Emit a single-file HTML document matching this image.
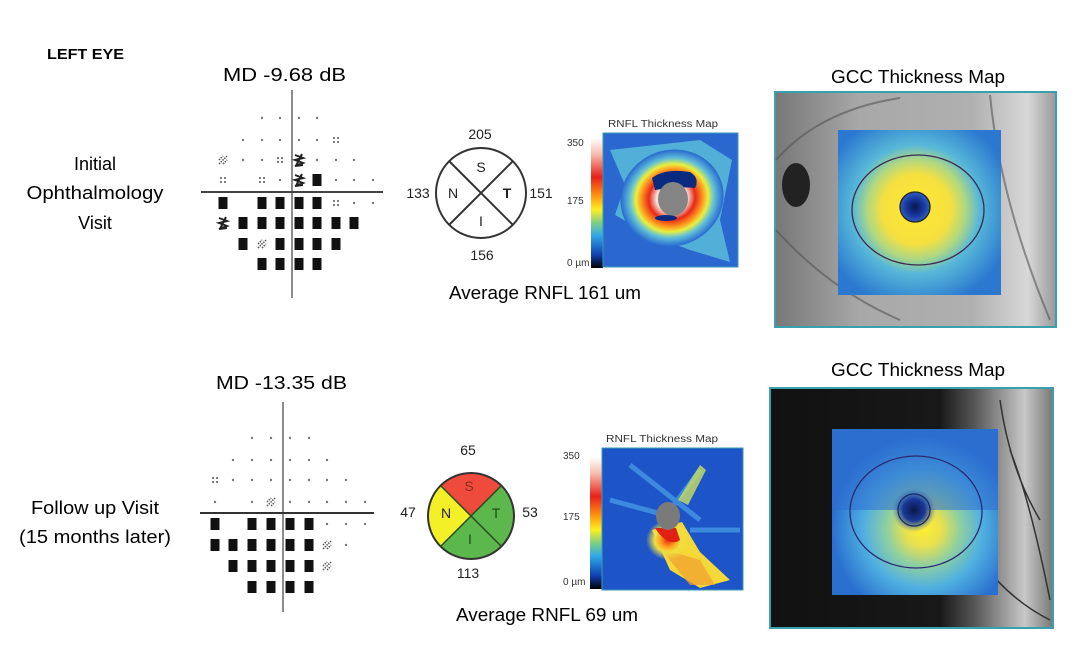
<!DOCTYPE html>
<html><head><meta charset="utf-8"><style>
html,body{margin:0;padding:0;background:#fff;}
svg{display:block;font-family:"Liberation Sans",Arial,sans-serif;}
</style></head><body>
<svg width="1080" height="654" viewBox="0 0 1080 654" xmlns="http://www.w3.org/2000/svg">
<defs>
<linearGradient id="cbar" x1="0" y1="0" x2="0" y2="1">
<stop offset="0" stop-color="#fff"/><stop offset="0.12" stop-color="#f8c0b0"/><stop offset="0.3" stop-color="#e8201a"/><stop offset="0.45" stop-color="#ff9a10"/><stop offset="0.55" stop-color="#ffee20"/><stop offset="0.65" stop-color="#80d080"/><stop offset="0.75" stop-color="#30a8e8"/><stop offset="0.9" stop-color="#1040b0"/><stop offset="1" stop-color="#000"/>
</linearGradient>
<radialGradient id="rnfl1" cx="0.5" cy="0.5" r="0.5">
<stop offset="0" stop-color="#fff"/><stop offset="0.3" stop-color="#f6e0d8"/><stop offset="0.45" stop-color="#e82818"/><stop offset="0.6" stop-color="#ff9a20"/><stop offset="0.7" stop-color="#e8f040"/><stop offset="0.82" stop-color="#60c0d8"/><stop offset="1" stop-color="#2868d0"/>
</radialGradient>
<radialGradient id="rnfl2" cx="0.5" cy="0.5" r="0.5">
<stop offset="0" stop-color="#e82818"/><stop offset="0.35" stop-color="#ffa020"/><stop offset="0.6" stop-color="#f0e040"/><stop offset="1" stop-color="#f0e040" stop-opacity="0"/>
</radialGradient>
<radialGradient id="gcc1" cx="0.48" cy="0.48" r="0.6">
<stop offset="0" stop-color="#ffe830"/><stop offset="0.35" stop-color="#f6e040"/><stop offset="0.5" stop-color="#b0d880"/><stop offset="0.65" stop-color="#58b8d8"/><stop offset="1" stop-color="#2a78d0"/>
</radialGradient>
<radialGradient id="gcc2" cx="0.55" cy="0.6" r="0.55">
<stop offset="0" stop-color="#fff030"/><stop offset="0.2" stop-color="#e8e050"/><stop offset="0.4" stop-color="#90d0a0"/><stop offset="0.65" stop-color="#50b0e0"/><stop offset="1" stop-color="#2a70d0"/>
</radialGradient>
<radialGradient id="fov" cx="0.5" cy="0.5" r="0.5">
<stop offset="0" stop-color="#081850"/><stop offset="0.6" stop-color="#1838a0"/><stop offset="1" stop-color="#3060c0"/>
</radialGradient>
<radialGradient id="fov2" cx="0.5" cy="0.5" r="0.5">
<stop offset="0" stop-color="#0a1848"/><stop offset="0.5" stop-color="#1a3898"/><stop offset="1" stop-color="#3a70c8" stop-opacity="0"/>
</radialGradient>
<linearGradient id="fund1" x1="0" y1="0" x2="1" y2="0">
<stop offset="0" stop-color="#777"/><stop offset="0.3" stop-color="#a8a8a8"/><stop offset="0.7" stop-color="#b0b0b0"/><stop offset="0.9" stop-color="#d8d8d8"/><stop offset="1" stop-color="#999"/>
</linearGradient>
<linearGradient id="fund2" x1="0" y1="0" x2="1" y2="0">
<stop offset="0" stop-color="#111"/><stop offset="0.6" stop-color="#181818"/><stop offset="0.72" stop-color="#555"/><stop offset="0.9" stop-color="#c8c8c8"/><stop offset="1" stop-color="#777"/>
</linearGradient>
</defs>

<g>
<text x="47" y="59" font-size="15" font-weight="bold" textLength="77" lengthAdjust="spacingAndGlyphs">LEFT EYE</text>
<text x="223" y="81" font-size="18" textLength="123" lengthAdjust="spacingAndGlyphs">MD  -9.68 dB</text>
<text x="216" y="389" font-size="18" textLength="131" lengthAdjust="spacingAndGlyphs">MD  -13.35 dB</text>
<text x="95" y="170" font-size="18" text-anchor="middle">Initial</text>
<text x="95" y="199" font-size="18" text-anchor="middle" textLength="137" lengthAdjust="spacingAndGlyphs">Ophthalmology</text>
<text x="95" y="229" font-size="18" text-anchor="middle">Visit</text>
<text x="95" y="514" font-size="18" text-anchor="middle" textLength="128" lengthAdjust="spacingAndGlyphs">Follow up Visit</text>
<text x="95" y="543" font-size="18" text-anchor="middle" textLength="152" lengthAdjust="spacingAndGlyphs">(15 months later)</text>
<text x="449" y="299" font-size="18" textLength="192" lengthAdjust="spacingAndGlyphs">Average RNFL 161 um</text>
<text x="456" y="621" font-size="18" textLength="182" lengthAdjust="spacingAndGlyphs">Average RNFL 69 um</text>
<text x="831" y="83" font-size="18" textLength="174" lengthAdjust="spacingAndGlyphs">GCC Thickness Map</text>
<text x="831" y="376" font-size="18" textLength="174" lengthAdjust="spacingAndGlyphs">GCC Thickness Map</text>
</g>

<!-- VF axes -->
<line x1="292" y1="90" x2="292" y2="298" stroke="#666" stroke-width="1.5"/>
<line x1="201" y1="192" x2="383" y2="192" stroke="#444" stroke-width="2"/>
<line x1="283" y1="402" x2="283" y2="612" stroke="#666" stroke-width="1.5"/>
<line x1="200" y1="513" x2="374" y2="513" stroke="#333" stroke-width="2"/>
<g id="vf1"></g><g id="vf2"></g>

<!-- sector circles -->
<g font-size="14" fill="#222">
<circle cx="481" cy="193" r="45" fill="#fff" stroke="#333" stroke-width="2"/>
<line x1="449" y1="161" x2="513" y2="225" stroke="#333" stroke-width="2"/>
<line x1="513" y1="161" x2="449" y2="225" stroke="#333" stroke-width="2"/>
<text x="481" y="172" text-anchor="middle">S</text>
<text x="453" y="198" text-anchor="middle">N</text>
<text x="507" y="198" text-anchor="middle" font-weight="bold">T</text>
<text x="481" y="226" text-anchor="middle">I</text>
<text x="480" y="139" text-anchor="middle">205</text>
<text x="418" y="198" text-anchor="middle">133</text>
<text x="541" y="198" text-anchor="middle">151</text>
<text x="482" y="260" text-anchor="middle">156</text>
</g>
<g font-size="14" fill="#222">
<path d="M471,516 L440.6,485.6 A43,43 0 0 1 501.4,485.6 Z" fill="#ee4b3c"/>
<path d="M471,516 L501.4,485.6 A43,43 0 0 1 501.4,546.4 Z" fill="#5cb84c"/>
<path d="M471,516 L501.4,546.4 A43,43 0 0 1 440.6,546.4 Z" fill="#5cb84c"/>
<path d="M471,516 L440.6,546.4 A43,43 0 0 1 440.6,485.6 Z" fill="#f4f028"/>
<circle cx="471" cy="516" r="43" fill="none" stroke="#333" stroke-width="2"/>
<line x1="440.6" y1="485.6" x2="501.4" y2="546.4" stroke="#2a4a20" stroke-width="1.5"/>
<line x1="501.4" y1="485.6" x2="440.6" y2="546.4" stroke="#2a4a20" stroke-width="1.5"/>
<text x="469" y="491" text-anchor="middle" fill="#8a2a20">S</text>
<text x="446" y="518" text-anchor="middle">N</text>
<text x="496" y="518" text-anchor="middle" fill="#1a4a1a">T</text>
<text x="470" y="544" text-anchor="middle" fill="#1a4a1a">I</text>
<text x="468" y="455" text-anchor="middle">65</text>
<text x="408" y="517" text-anchor="middle">47</text>
<text x="530" y="517" text-anchor="middle">53</text>
<text x="468" y="578" text-anchor="middle">113</text>
</g>

<!-- RNFL maps -->
<g font-size="10" fill="#333">
<text x="608" y="127" textLength="110" lengthAdjust="spacingAndGlyphs">RNFL Thickness Map</text>
<text x="567" y="146">350</text><text x="567" y="204">175</text><text x="567" y="266">0 µm</text>
<rect x="591" y="138" width="12" height="130" fill="url(#cbar)"/>
<rect x="603" y="133" width="135" height="134" fill="#2a68d0" stroke="#3a9ab0"/>
<path d="M610,150 L700,140 L732,160 L720,220 L730,262 L690,250 L650,235 L615,215 L625,185 Z" fill="#5cc0d8" opacity="0.8"/>
<ellipse cx="672" cy="198" rx="52" ry="48" fill="url(#rnfl1)" transform="rotate(-20 672 198)"/>
<path d="M652,178 Q665,168 690,172 Q700,178 695,188 Q680,186 655,190 Z" fill="#0a2a80"/>
<ellipse cx="673" cy="199" rx="15" ry="17" fill="#848484"/>
<ellipse cx="666" cy="218" rx="11" ry="3" fill="#0a2a80"/>

<text x="606" y="442" textLength="112" lengthAdjust="spacingAndGlyphs">RNFL Thickness Map</text>
<text x="563" y="459">350</text><text x="563" y="520">175</text><text x="563" y="585">0 µm</text>
<rect x="590" y="457" width="12" height="132" fill="url(#cbar)"/>
<rect x="602" y="448" width="141" height="142" fill="#1d55c8" stroke="#3a9ab0"/>
<path d="M630,465 L700,520 M610,500 L665,515 M700,470 L670,510 M690,530 L740,530" stroke="#4aa0e8" stroke-width="5" opacity="0.7"/>
<path d="M678,500 L700,465 L706,470 L688,505 Z" fill="#c8e060" opacity="0.8"/>
<path d="M652,530 L682,522 L700,552 L730,580 L700,588 L670,570 Z" fill="#f4d838"/>
<path d="M660,548 L700,560 L715,585 L690,585 Z" fill="#f0a030" opacity="0.7"/>
<ellipse cx="668" cy="540" rx="22" ry="20" fill="url(#rnfl2)"/>
<path d="M655,528 Q668,548 680,540 L676,528 Z" fill="#e02010"/>
<ellipse cx="668" cy="516" rx="12" ry="14" fill="#7a7a7a"/>
</g>

<!-- GCC maps -->
<rect x="775" y="92" width="281" height="235" fill="url(#fund1)" stroke="#3aa0b0" stroke-width="2"/>
<ellipse cx="796" cy="185" rx="14" ry="22" fill="#222"/>
<path d="M776,160 Q820,110 900,98 M776,230 Q830,290 900,320 M990,95 Q1000,200 1050,320" stroke="#555" stroke-width="2" fill="none" opacity="0.6"/>
<rect x="838" y="130" width="163" height="165" fill="url(#gcc1)"/>
<ellipse cx="918" cy="210" rx="66" ry="55" fill="none" stroke="#3a2a50" stroke-width="1.3"/>
<circle cx="915" cy="207" r="15" fill="url(#fov)" stroke="#222" stroke-width="1.3"/>

<rect x="770" y="388" width="283" height="240" fill="url(#fund2)" stroke="#3aa0b0" stroke-width="2"/>
<path d="M1000,400 Q1010,470 1040,520 M1010,450 Q1030,500 1050,600 M980,560 Q1010,600 1050,620" stroke="#333" stroke-width="1.5" fill="none"/>
<rect x="832" y="429" width="166" height="166" fill="#3a88d8"/>
<rect x="832" y="429" width="166" height="166" fill="url(#gcc2)"/>
<path d="M832,429 L998,429 L998,510 L832,510 Z" fill="#2e6ed0" opacity="0.55"/>
<ellipse cx="916" cy="512" rx="66" ry="56" fill="none" stroke="#2a2a70" stroke-width="1.3"/>
<circle cx="914" cy="510" r="22" fill="url(#fov2)"/>
<circle cx="914" cy="510" r="16" fill="none" stroke="#1a2a60" stroke-width="1.3"/>
</svg>
<script>
(function(){
var NS="http://www.w3.org/2000/svg";
function el(g,t,a){var e=document.createElementNS(NS,t);for(var k in a)e.setAttribute(k,a[k]);g.appendChild(e);}
function draw(id,xs,ys,rows){
 var g=document.getElementById(id);
 rows.forEach(function(r,ri){
  for(var ci=0;ci<r.length;ci++){
   var c=r[ci],x=xs[ci],y=ys[ri];
   if(c=='.')el(g,'circle',{cx:x,cy:y,r:1.2,fill:'#777'});
   else if(c=='q'){[[-2,-2],[2,-2],[-2,2],[2,2]].forEach(function(d){el(g,'circle',{cx:x+d[0],cy:y+d[1],r:1,fill:'#555'});});}
   else if(c=='B')el(g,'rect',{x:x-4.5,y:y-6,width:9,height:12,fill:'#111'});
   else if(c=='h')el(g,'path',{d:'M'+(x-4)+','+(y+4)+'L'+(x+4)+','+(y-4)+'M'+(x-4)+','+(y)+'L'+(x)+','+(y-4)+'M'+(x)+','+(y+4)+'L'+(x+4)+','+(y),stroke:'#555','stroke-width':1.5,'stroke-dasharray':'1.5 1'});
   else if(c=='H'){el(g,'path',{d:'M'+(x-4)+','+(y-5)+'l8,3l-8,2l8,3l-8,3l8,-1M'+(x-3)+','+(y+6)+'l6,-12',stroke:'#222','stroke-width':2,fill:'none'});}
  }
 });
}
draw('vf1',[223,243,262,280,299,317,336,354,373],[118,140,160,180,203,223,244,264],
["  ....   "," .....q  ","h..qH... ","q q.HB...","B BBBBq..","HBBBBBBB "," BhBBBB  ","  BBBB   "]);
draw('vf2',[215,233,252,271,290,309,327,346,365],[438,460,480,502,524,545,566,587],
["  ....   "," ......  ","q....... ",". .h.....","B BBBB...","BBBBBBh. "," BBBBBh  ","  BBBB   "]);
})();
</script>
</body></html>
